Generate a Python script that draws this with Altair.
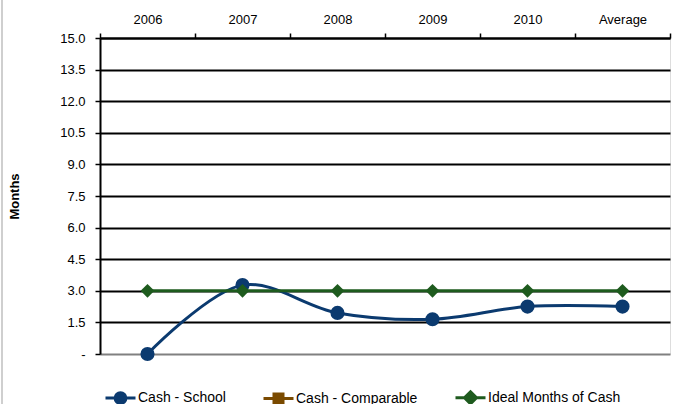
import altair as alt
import pandas as pd

categories = ["2006", "2007", "2008", "2009", "2010", "Average"]
school = [0.0, 3.27, 1.95, 1.65, 2.25, 2.25]
ideal = [3.0, 3.0, 3.0, 3.0, 3.0, 3.0]
series_names = ["Cash - School", "Cash - Comparable", "Ideal Months of Cash"]
series_colors = ["#0B3A6F", "#7A4A00", "#1E5B1E"]
y_ticks = [0, 1.5, 3, 4.5, 6, 7.5, 9, 10.5, 12, 13.5, 15]

rows = []
for c, v in zip(categories, school):
    rows.append({"year": c, "series": "Cash - School", "value": v})
for c, v in zip(categories, ideal):
    rows.append({"year": c, "series": "Ideal Months of Cash", "value": v})
df = pd.DataFrame(rows)

x_enc = alt.X(
    "year:N", sort=categories, bandPosition=0.5,
    scale=alt.Scale(type="band", paddingInner=0, paddingOuter=0, domain=categories),
    axis=alt.Axis(
        orient="top", title=None, labelAngle=0, tickBand="extent", ticks=True,
        tickSize=5, tickColor="black", tickWidth=1.5, domain=True,
        domainColor="black", domainWidth=2, grid=False, labelFontSize=13,
        labelPadding=7, labelColor="black", labelFont="Liberation Sans",
    ),
)
y_enc = alt.Y(
    "value:Q",
    scale=alt.Scale(domain=[0, 15], nice=False, zero=True),
    axis=alt.Axis(
        values=y_ticks, title="Months", titleFontSize=13, titleFontWeight="bold",
        titleFont="Liberation Sans", titlePadding=38, titleColor="black",
        labelExpr="datum.value == 0 ? '-' : format(datum.value, '.1f')",
        labelFontSize=13, labelFont="Liberation Sans", labelColor="black",
        labelPadding=10, tickSize=5, tickColor="black", tickWidth=1.5,
        domainColor="black", domainWidth=2, grid=True,
        gridColor={"condition": {"test": "datum.value == 0", "value": "#808080"}, "value": "black"},
        gridWidth=1.8,
    ),
)
color_enc = alt.Color(
    "series:N", legend=None,
    scale=alt.Scale(domain=series_names, range=series_colors),
)

base = alt.Chart(df)

legend_paths = [
    "M-1,0L1,0M-0.36,0A0.36,0.36 0 1,0 0.36,0A0.36,0.36 0 1,0 -0.36,0Z",
    "M-1,0L1,0M-0.3,-0.3L0.3,-0.3L0.3,0.3L-0.3,0.3Z",
    "M-1,0L1,0M0,-0.4L0.4,0L0,0.4L-0.4,0Z",
]
legend_def = alt.Legend(
    title=None, orient="none", legendX=4, legendY=343, direction="horizontal",
    columns=3, columnPadding=31, symbolSize=900, symbolStrokeWidth=3,
    labelFontSize=14, labelFont="Liberation Sans", labelColor="black", labelOffset=1,
)
dummy = base.mark_point(filled=True, opacity=1).encode(
    x=x_enc, y=y_enc,
    size=alt.value(0),
    fill=alt.Fill("series:N", scale=alt.Scale(domain=series_names, range=series_colors), legend=legend_def),
    stroke=alt.Stroke("series:N", scale=alt.Scale(domain=series_names, range=series_colors), legend=legend_def),
    shape=alt.Shape("series:N", scale=alt.Scale(domain=series_names, range=legend_paths), legend=legend_def),
)

school_line = base.transform_filter("datum.series == 'Cash - School'").mark_line(
    interpolate="catmull-rom", strokeWidth=3
).encode(x=x_enc, y=y_enc, color=color_enc)
school_pts = base.transform_filter("datum.series == 'Cash - School'").mark_point(
    filled=True, shape="circle", size=200, opacity=1
).encode(x=x_enc, y=y_enc, color=color_enc)
ideal_line = base.transform_filter("datum.series == 'Ideal Months of Cash'").mark_line(
    strokeWidth=3
).encode(x=x_enc, y=y_enc, color=color_enc)
ideal_pts = base.transform_filter("datum.series == 'Ideal Months of Cash'").mark_point(
    filled=True, shape="diamond", size=190, opacity=1
).encode(x=x_enc, y=y_enc, color=color_enc)

border = alt.Chart(pd.DataFrame({"a": [0]})).mark_rule(color="#CFCFCF", strokeWidth=2).encode(
    x=alt.value(-98), y=alt.value(-40), y2=alt.value(370)
)

chart = alt.layer(dummy, school_line, school_pts, ideal_line, ideal_pts, border).properties(
    width=570, height=316,
    autosize=alt.AutoSizeParams(type="none"),
    padding={"left": 100, "top": 38, "right": 5, "bottom": 50},
).configure_view(
    fill="#EEEEEE", stroke="#808080", strokeWidth=2
).configure(background="white")

chart.save("out.html", embed_options={"renderer": "svg", "actions": False})
